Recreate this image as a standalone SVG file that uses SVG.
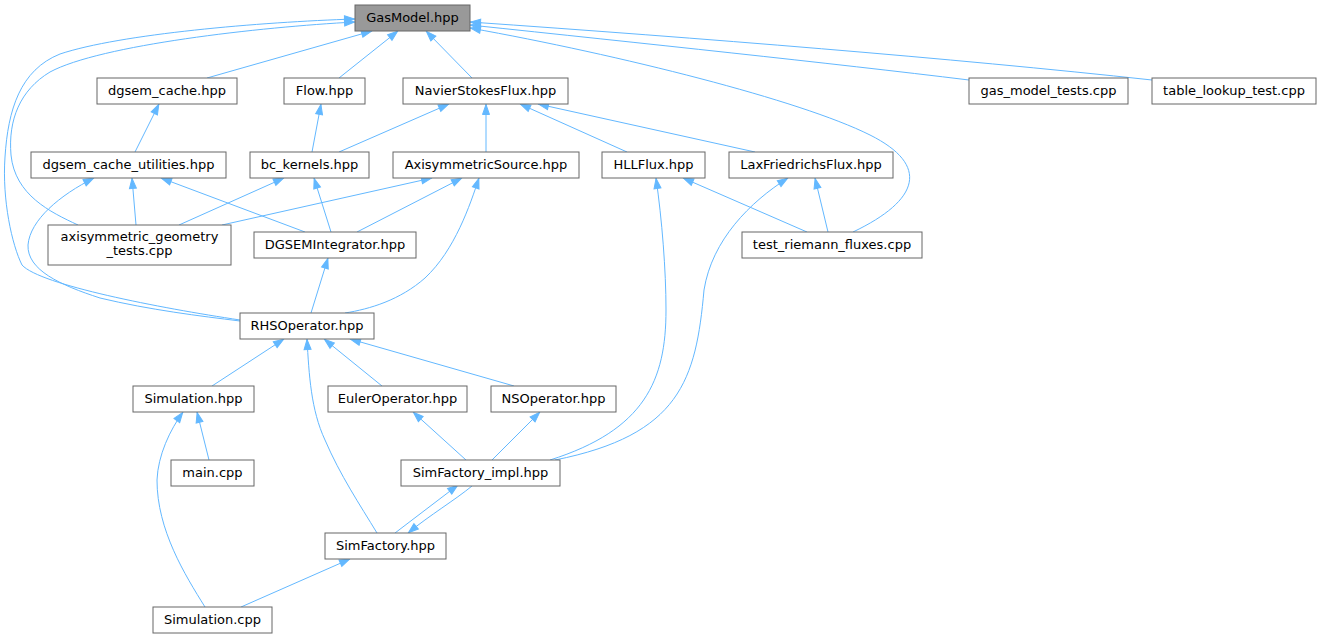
<svg xmlns="http://www.w3.org/2000/svg" width="1321" height="637" viewBox="0 0 1321 637">
<style>
.n rect{fill:#ffffff;stroke:#666666;stroke-width:1}
.n text{font-family:"DejaVu Sans","Liberation Sans",sans-serif;font-size:13px;fill:#000000;text-anchor:middle}
#gasmodel rect{fill:#999999}
#edges path{fill:none;stroke:#63b8ff;stroke-width:1;marker-start:url(#ah)}
</style>
<defs>
<marker id="ah" markerUnits="userSpaceOnUse" markerWidth="13" markerHeight="10" viewBox="0 0 13 10" refX="12" refY="5" orient="auto-start-reverse">
<path d="M1.5,1.5 L11.5,5 L1.5,8.5 z" fill="#63b8ff" stroke="#63b8ff" stroke-width="1"/>
</marker>
</defs>
<rect width="1321" height="637" fill="#ffffff"/>
<g id="edges">
<path d="M372,31 L207,78"/>
<path d="M398,31 L339,78"/>
<path d="M426,31 L472,78"/>
<path d="M355,19 C260,22 120,34 60,54 C20,70 8,110 5,157 C2,200 12,245 22,265 C40,285 160,308 240,320"/>
<path d="M355,22 C260,27 100,45 50,72 C20,90 8,120 11,155 C15,195 50,212 78,225"/>
<path d="M470,22 C700,38 950,58 1152,80"/>
<path d="M470,25 C640,43 830,63 969,80"/>
<path d="M470,28 C620,55 800,100 870,135 C930,165 920,200 853,232"/>
<path d="M159,104 L135,152"/>
<path d="M132,178 L136,225"/>
<path d="M161,178 L305,232"/>
<path d="M94,178 C60,195 30,220 28,245 C27,270 60,285 100,298 C150,310 200,316 240,321"/>
<path d="M321,104 L312,152"/>
<path d="M449,104 L339,152"/>
<path d="M486,104 L486,152"/>
<path d="M520,104 L627,152"/>
<path d="M538,104 L755,152"/>
<path d="M284,178 L179,225"/>
<path d="M314,178 L331,232"/>
<path d="M432,178 L222,225"/>
<path d="M462,178 L357,232"/>
<path d="M479,178 C470,205 455,250 425,278 C400,300 370,309 345,313"/>
<path d="M683,178 L807,232"/>
<path d="M656,178 C662,220 666,270 666,310 C666,380 645,430 550,460"/>
<path d="M788,178 C750,202 712,240 704,290 C696,380 680,435 555,460"/>
<path d="M815,178 L828,232"/>
<path d="M328,258 L311,313"/>
<path d="M284,339 L212,386"/>
<path d="M307,339 C309,375 311,410 325,440 C340,475 360,505 377,533"/>
<path d="M324,339 L382,386"/>
<path d="M350,339 L514,386"/>
<path d="M197,412 L209,460"/>
<path d="M183,412 C170,430 158,455 157,480 C157,530 185,575 205,607"/>
<path d="M413,412 L466,460"/>
<path d="M540,412 L492,460"/>
<path d="M458,485 L395,533"/>
<path d="M408,533 C430,515 455,500 472,486"/>
<path d="M350,559 L241,607"/>
</g>
<g id="gasmodel" class="n"><rect x="355" y="5" width="115" height="26"/><text x="412.5" y="22">GasModel.hpp</text></g>
<g id="dgsem_cache" class="n"><rect x="97" y="78" width="140" height="26"/><text x="167" y="95">dgsem_cache.hpp</text></g>
<g id="flow" class="n"><rect x="284" y="78" width="81" height="26"/><text x="324.5" y="95">Flow.hpp</text></g>
<g id="navierstokesflux" class="n"><rect x="403" y="78" width="165" height="26"/><text x="485.5" y="95">NavierStokesFlux.hpp</text></g>
<g id="gas_model_tests" class="n"><rect x="969" y="78" width="159" height="26"/><text x="1048.5" y="95">gas_model_tests.cpp</text></g>
<g id="table_lookup_test" class="n"><rect x="1152" y="78" width="164" height="26"/><text x="1234" y="95">table_lookup_test.cpp</text></g>
<g id="dgsem_cache_utilities" class="n"><rect x="31" y="152" width="195" height="26"/><text x="128.5" y="169">dgsem_cache_utilities.hpp</text></g>
<g id="bc_kernels" class="n"><rect x="250" y="152" width="119" height="26"/><text x="309.5" y="169">bc_kernels.hpp</text></g>
<g id="axisymmetricsource" class="n"><rect x="393" y="152" width="186" height="26"/><text x="486" y="169">AxisymmetricSource.hpp</text></g>
<g id="hllflux" class="n"><rect x="602" y="152" width="103" height="26"/><text x="653.5" y="169">HLLFlux.hpp</text></g>
<g id="laxfriedrichsflux" class="n"><rect x="729" y="152" width="164" height="26"/><text x="811" y="169">LaxFriedrichsFlux.hpp</text></g>
<g id="axisymmetric_geometry_tests" class="n"><rect x="48" y="225" width="183" height="40"/><text x="139.5" y="241">axisymmetric_geometry</text><text x="139.5" y="255">_tests.cpp</text></g>
<g id="dgsemintegrator" class="n"><rect x="254" y="232" width="162" height="26"/><text x="335" y="249">DGSEMIntegrator.hpp</text></g>
<g id="test_riemann_fluxes" class="n"><rect x="742" y="232" width="180" height="26"/><text x="832" y="249">test_riemann_fluxes.cpp</text></g>
<g id="rhsoperator" class="n"><rect x="240" y="313" width="134" height="26"/><text x="307" y="330">RHSOperator.hpp</text></g>
<g id="simulation_hpp" class="n"><rect x="133" y="386" width="121" height="26"/><text x="193.5" y="403">Simulation.hpp</text></g>
<g id="euleroperator" class="n"><rect x="328" y="386" width="139" height="26"/><text x="397.5" y="403">EulerOperator.hpp</text></g>
<g id="nsoperator" class="n"><rect x="491" y="386" width="125" height="26"/><text x="553.5" y="403">NSOperator.hpp</text></g>
<g id="main_cpp" class="n"><rect x="171" y="460" width="83" height="26"/><text x="212.5" y="477">main.cpp</text></g>
<g id="simfactory_impl" class="n"><rect x="401" y="460" width="159" height="26"/><text x="480.5" y="477">SimFactory_impl.hpp</text></g>
<g id="simfactory" class="n"><rect x="325" y="533" width="121" height="26"/><text x="385.5" y="550">SimFactory.hpp</text></g>
<g id="simulation_cpp" class="n"><rect x="153" y="607" width="119" height="26"/><text x="212.5" y="624">Simulation.cpp</text></g>
</svg>
